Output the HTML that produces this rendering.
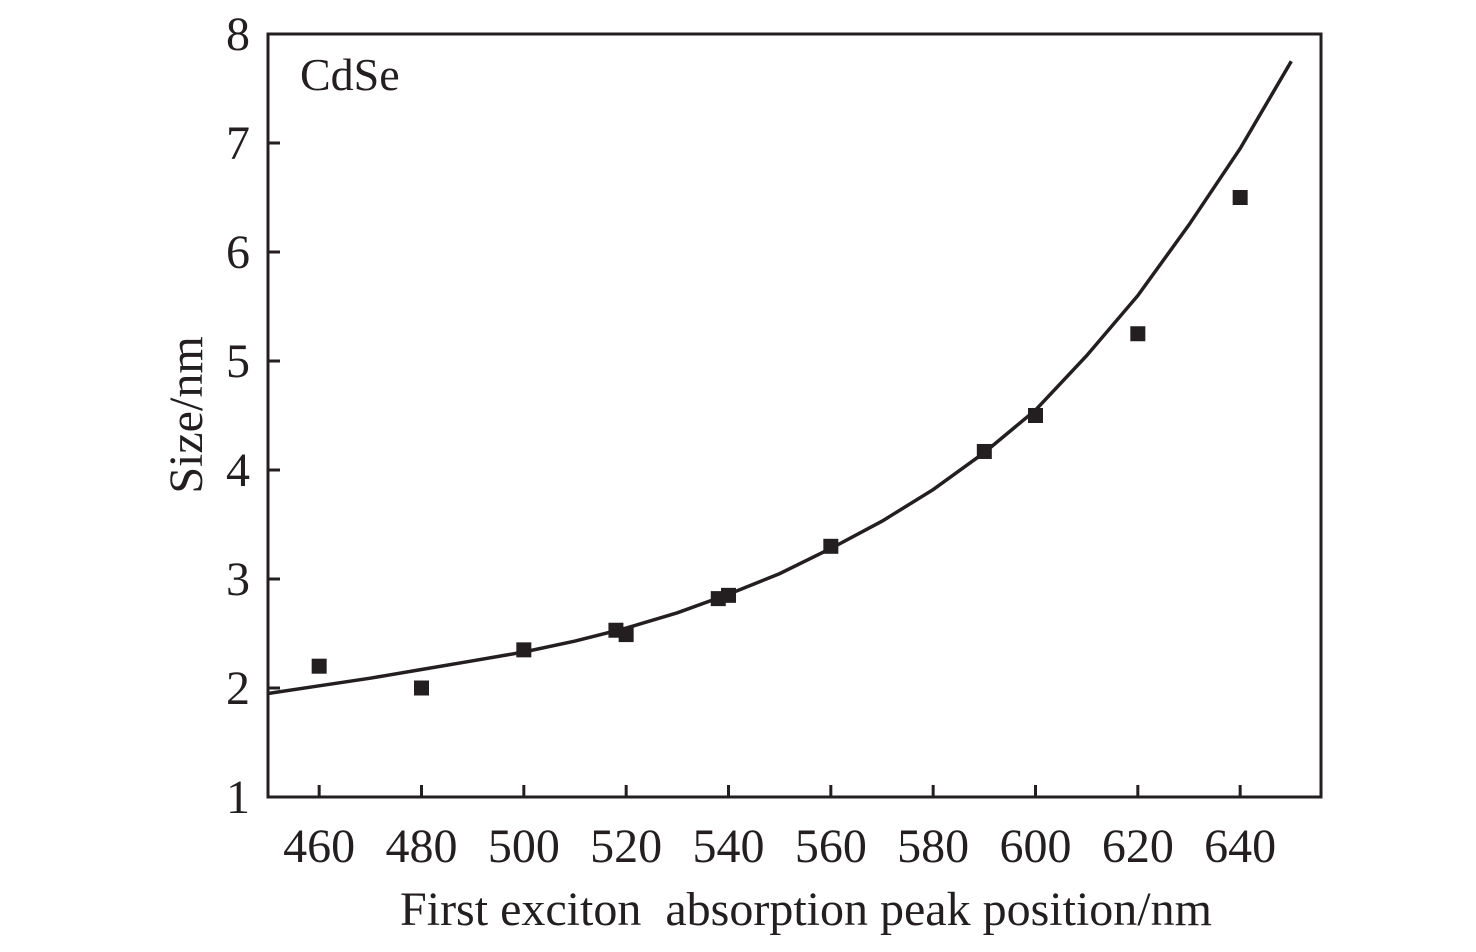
<!DOCTYPE html>
<html><head><meta charset="utf-8"><style>
body{margin:0;background:#fff;}
svg text{font-family:"Liberation Serif",serif;fill:#231f20;}
</style></head><body>
<svg id="chart" width="1476" height="947" xmlns="http://www.w3.org/2000/svg"></svg>
<script>
const xTicks=[460,480,500,520,540,560,580,600,620,640];
const yTicks=[1,2,3,4,5,6,7,8];
const pointX=[460,480,500,518,520,538,540,560,590,600,620,640];
const pointY=[2.2,2.0,2.35,2.53,2.49,2.82,2.85,3.3,4.17,4.5,5.25,6.5];
const fitX=[450,460,470,480,490,500,510,520,530,540,550,560,570,580,590,600,610,620,630,640,650];
const fitY=[1.95,2.02,2.09,2.17,2.25,2.33,2.43,2.55,2.69,2.86,3.05,3.28,3.53,3.82,4.16,4.55,5.05,5.6,6.25,6.95,7.75];
const L=268,R=1321,T=34,B=797,XMIN=450,XMAX=655.8,YMIN=1,YMAX=8;
const sx=v=>L+(v-XMIN)/(XMAX-XMIN)*(R-L);
const sy=v=>B-(v-YMIN)/(YMAX-YMIN)*(B-T);
const svg=document.getElementById('chart');
const NS='http://www.w3.org/2000/svg';
function mk(tag,attrs){const e=document.createElementNS(NS,tag);for(const k in attrs)e.setAttribute(k,attrs[k]);svg.appendChild(e);return e;}
let frame=mk('rect',{x:L,y:T,width:R-L,height:B-T,fill:'none',stroke:'#231f20','stroke-width':3});


xTicks.forEach(v=>{
  let t=mk('line',{x1:sx(v),x2:sx(v),y1:B,y2:B-12,stroke:'#231f20','stroke-width':3});
  
  
  let l=mk('text',{x:sx(v),y:862,'font-size':48,'text-anchor':'middle'});l.textContent=v;
  
  
});
yTicks.forEach(v=>{
  let t=mk('line',{x1:L,x2:L+12,y1:sy(v),y2:sy(v),stroke:'#231f20','stroke-width':3});
  
  
  let l=mk('text',{x:250,y:sy(v)+16,'font-size':48,'text-anchor':'end'});l.textContent=v;
  
  
});
let d=fitX.map((x,i)=>(i?'L':'M')+sx(x).toFixed(1)+','+sy(fitY[i]).toFixed(1)).join(' ');
let fit=mk('path',{d:d,fill:'none',stroke:'#231f20','stroke-width':3.5});


pointX.forEach((x,i)=>{
  let p=mk('rect',{x:sx(x)-7.5,y:sy(pointY[i])-7.5,width:15,height:15,fill:'#231f20'});
  
  
});
let lab=mk('text',{x:300,y:90,'font-size':46});lab.textContent='CdSe';


let xt=mk('text',{x:806,y:925,'font-size':48,'text-anchor':'middle'});xt.textContent='First exciton\u00a0 absorption peak position/nm';


let yt=mk('text',{x:0,y:0,'font-size':48,'text-anchor':'middle',transform:'translate(202,415) rotate(-90)'});yt.textContent='Size/nm';


</script>
</body></html>
